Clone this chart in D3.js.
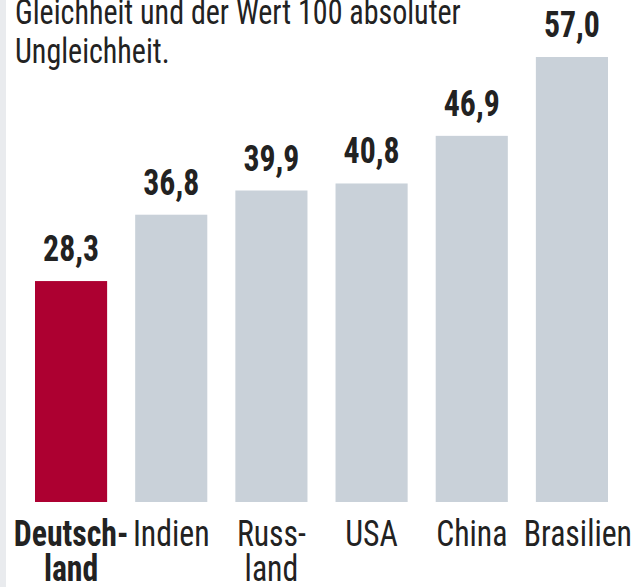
<!DOCTYPE html>
<html>
<head>
<meta charset="utf-8">
<script src="https://cdn.jsdelivr.net/npm/d3@7"></script>
<style>
  body { margin: 0; background: #fff; }
  text { font-family: "Liberation Sans Narrow", "Roboto Condensed", "DejaVu Sans Condensed", sans-serif; fill: #222; }
</style>
</head>
<body>
<div id="chart"></div>
<script>
// data
var countries = ["Deutschland", "Indien", "Russland", "USA", "China", "Brasilien"]
var labelLines = [["Deutsch-", "land"], ["Indien"], ["Russ-", "land"], ["USA"], ["China"], ["Brasilien"]]
var giniValues = [28.3, 36.8, 39.9, 40.8, 46.9, 57.0]
var highlight = "Deutschland"
var titleLines = ["Gleichheit und der Wert 100 absoluter", "Ungleichheit."]

var width = 634, height = 587

var svg = d3.select("#chart")
  .append("svg")
    .attr("width", width)
    .attr("height", height)

// light strip on the left edge
svg.append("rect")
  .attr("x", 0).attr("y", 0)
  .attr("width", 6).attr("height", height)
  .style("fill", "#e9ebee")

var de = d3.formatLocale({decimal: ",", thousands: ".", grouping: [3], currency: ["", " €"]})
var fmt = de.format(".1f")

var x = d3.scaleBand()
  .domain(countries)
  .range([35, 608])
  .paddingInner(0.28)
  .paddingOuter(0)

var y = d3.scaleLinear()
  .domain([0, 57])
  .range([502, 57])

var titleSqueeze = 0.834,
    labelSqueeze = 0.883

// title (cut off at the top)
svg.selectAll(".title")
  .data(titleLines)
  .enter()
  .append("text")
    .attr("class", "title")
    .attr("transform", function(d, i){ return "translate(15," + (24 + i * 39) + ") scale(" + titleSqueeze + ",1)" })
    .style("font-size", "36px")
    .text(function(d){ return d })

// bars
svg.selectAll(".bar")
  .data(countries)
  .enter()
  .append("rect")
    .attr("class", "bar")
    .attr("x", function(d){ return x(d) })
    .attr("width", x.bandwidth())
    .attr("y", function(d, i){ return y(giniValues[i]) })
    .attr("height", function(d, i){ return y(0) - y(giniValues[i]) })
    .style("fill", function(d){ return d === highlight ? "#ad0031" : "#c9d1d9" })

// value labels
svg.selectAll(".val")
  .data(countries)
  .enter()
  .append("text")
    .attr("class", "val")
    .attr("text-anchor", "middle")
    .attr("transform", function(d, i){
      return "translate(" + (x(d) + x.bandwidth() / 2) + "," + (y(giniValues[i]) - 20) + ") scale(" + labelSqueeze + ",1)" })
    .style("font-size", "36px")
    .style("font-weight", "bold")
    .text(function(d, i){ return fmt(giniValues[i]) })

// category labels, the last one pushed to the right edge
var last = countries[countries.length - 1]
var cat = svg.selectAll(".cat")
  .data(countries)
  .enter()
  .append("g")
    .attr("class", "cat")
    .attr("transform", function(d){
      var cx = d === last ? x(d) + x.bandwidth() + 24 : x(d) + x.bandwidth() / 2
      return "translate(" + cx + ",546)" })

cat.selectAll("text")
  .data(function(d){ return labelLines[countries.indexOf(d)].map(function(t){ return {t: t, c: d} }) })
  .enter()
  .append("text")
    .attr("text-anchor", function(d){ return d.c === last ? "end" : "middle" })
    .attr("transform", function(d, i){ return "translate(0," + (i * 35) + ") scale(" + labelSqueeze + ",1)" })
    .style("font-size", "36px")
    .style("font-weight", function(d){ return d.c === highlight ? "bold" : "normal" })
    .text(function(d){ return d.t })
</script>
</body>
</html>
